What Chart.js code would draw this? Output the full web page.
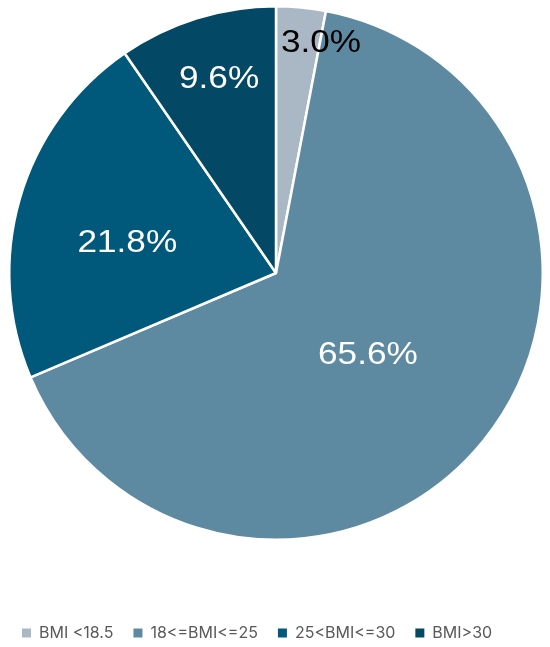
<!DOCTYPE html>
<html>
<head>
<meta charset="utf-8">
<script src="https://cdn.jsdelivr.net/npm/chart.js@4/dist/chart.umd.min.js"></script>
<style>
html,body{margin:0;padding:0;background:#fff;}
#wrap{width:550px;height:647px;position:relative;}
</style>
</head>
<body>
<div id="wrap"><canvas id="c"></canvas></div>
<script>
const categories = ["BMI <18.5", "18<=BMI<=25", "25<BMI<=30", "BMI>30"];
const shares = [3.0, 65.6, 21.8, 9.6];
const sliceColors = ["#a9b8c4", "#5e8aa1", "#00587b", "#034864"];
const labelColors = ["#000000", "#ffffff", "#ffffff", "#ffffff"];
// label placement (angle offset in degrees from slice middle, fraction of radius)
const labelPlace = [[5.6, 0.885], [2.3, 0.458], [-4.1, 0.57], [1.1, 0.766]];

const LEGEND_HEIGHT = 106;

const legendSize = {
  id: 'legendSize',
  beforeInit(chart) {
    const lg = chart.legend;
    if (!lg) return;
    const orig = lg.fit.bind(lg);
    lg.fit = function () { orig(); this.height = LEGEND_HEIGHT; };
  }
};

const labelPlugin = {
  id: 'pctLabels',
  afterDatasetsDraw(chart) {
    const ctx = chart.ctx;
    const meta = chart.getDatasetMeta(0);
    ctx.save();
    ctx.font = '32px "Liberation Sans", Arial, sans-serif';
    ctx.textAlign = 'center';
    ctx.textBaseline = 'middle';
    meta.data.forEach((arc, i) => {
      const p = arc.getProps(['x','y','startAngle','endAngle','outerRadius'], true);
      const mid = (p.startAngle + p.endAngle) / 2 + labelPlace[i][0] * Math.PI / 180;
      const r = p.outerRadius * labelPlace[i][1];
      const lx = p.x + Math.cos(mid) * r;
      const ly = p.y + Math.sin(mid) * r;
      ctx.save();
      ctx.translate(lx, ly);
      ctx.scale(1.1, 1);
      ctx.fillStyle = labelColors[i];
      ctx.fillText(shares[i].toFixed(1) + '%', 0, 2);
      ctx.restore();
    });
    ctx.restore();
  }
};

new Chart(document.getElementById('c'), {
  type: 'pie',
  data: {
    labels: categories,
    datasets: [{
      data: shares,
      backgroundColor: sliceColors,
      borderColor: '#ffffff',
      borderWidth: 2.5
    }]
  },
  options: {
    responsive: true,
    maintainAspectRatio: false,
    animation: false,
    layout: { padding: { top: 5, bottom: 0, left: 2, right: 0 } },
    plugins: {
      tooltip: { enabled: false },
      legend: {
        position: 'bottom',
        align: 'start',
        title: {
          display: true,
          text: ' ',
          font: { size: 1 },
          padding: { top: 62.8, bottom: 0 }
        },
        labels: {
          boxWidth: 9,
          boxHeight: 9,
          padding: 20,
          color: '#595959',
          font: { family: 'Inter, "Liberation Sans", sans-serif', size: 16 },
          generateLabels(chart) {
            return categories.map((c, i) => ({
              text: c,
              fillStyle: sliceColors[i],
              strokeStyle: sliceColors[i],
              lineWidth: 0,
              fontColor: '#595959',
              hidden: false,
              index: i
            }));
          }
        }
      }
    }
  },
  plugins: [legendSize, labelPlugin]
});
</script>
</body>
</html>
